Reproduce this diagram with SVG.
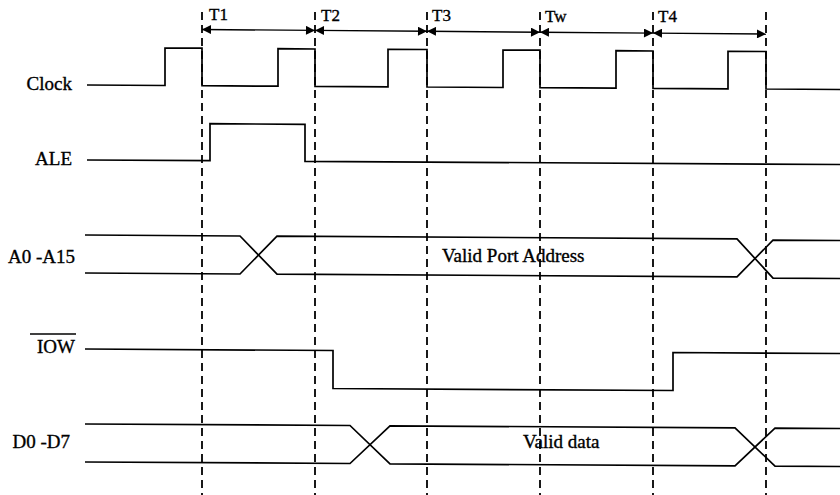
<svg xmlns="http://www.w3.org/2000/svg" width="840" height="495" viewBox="0 0 840 495">
  <style>
    .sig { fill: none; stroke: #000; stroke-width: 1.7; stroke-linejoin: miter; }
    .grid { fill: none; stroke: #000; stroke-width: 1.8; stroke-dasharray: 8 5; }
    .dim { fill: none; stroke: #000; stroke-width: 1.4; marker-start: url(#ah); marker-end: url(#ah); }
    text { font-family: 'Liberation Serif', 'DejaVu Serif', serif; fill: #000; stroke: #000; stroke-width: 0.35; }
    .lbl { font-size: 19px; }
    .tl { font-size: 17px; }
  </style>
  <defs>
    <marker id="ah" viewBox="0 0 10 10" refX="10" refY="5" markerWidth="10" markerHeight="9" markerUnits="userSpaceOnUse" orient="auto-start-reverse">
      <path d="M0,0 L10,5 L0,10 Z" fill="#000"/>
    </marker>
  </defs>
  <rect width="840" height="495" fill="#fff"/>

  <g id="connectors">
    <line class="grid" x1="202" y1="12" x2="202" y2="495"/>
    <line class="grid" x1="315" y1="12" x2="315" y2="495"/>
    <line class="grid" x1="427" y1="12" x2="427" y2="495"/>
    <line class="grid" x1="540" y1="12" x2="540" y2="495"/>
    <line class="grid" x1="653" y1="12" x2="653" y2="495"/>
    <line class="grid" x1="766" y1="12" x2="766" y2="495"/>
    <line class="dim" x1="202" y1="29.5" x2="315" y2="30.4"/>
    <line class="dim" x1="315" y1="30.4" x2="427" y2="31.3"/>
    <line class="dim" x1="427" y1="31.3" x2="540" y2="32.2"/>
    <line class="dim" x1="540" y1="32.2" x2="653" y2="33.1"/>
    <line class="dim" x1="653" y1="33.1" x2="766" y2="34"/>
  </g>

  <g id="periods">
    <text class="tl" x="209" y="20" font-family="Liberation Serif, serif">T1</text>
    <text class="tl" x="321" y="20.5" font-family="Liberation Serif, serif">T2</text>
    <text class="tl" x="432" y="21" font-family="Liberation Serif, serif">T3</text>
    <text class="tl" x="545" y="21.5" font-family="Liberation Serif, serif">Tw</text>
    <text class="tl" x="658" y="22" font-family="Liberation Serif, serif">T4</text>
  </g>

  <g id="clock">
    <text class="lbl" x="72" y="90" text-anchor="end" font-family="Liberation Serif, serif">Clock</text>
    <polyline class="sig" points="87,85 165,85.5 165,48 202,48.2 202,85.7 278,86.2 278,48.7 315,49 315,86.4 388,86.8 388,49.3 427,49.5 427,87 503,87.5 503,50 540,50.2 540,87.7 616,88.2 616,50.7 653,51 653,88.4 728,88.8 728,51.3 766,51.5 766,89 840,89.5"/>
  </g>

  <g id="ale">
    <text class="lbl" x="72" y="165" text-anchor="end" font-family="Liberation Serif, serif">ALE</text>
    <polyline class="sig" points="87,160 210,160.7 210,123.7 305,124.3 305,161.3 840,164.5"/>
  </g>

  <g id="address">
    <text class="lbl" x="75" y="263" text-anchor="end" font-family="Liberation Serif, serif">A0 -A15</text>
    <polyline class="sig" points="85,235 240,236 277,274.1 737,276.9 773,240.1 840,240.5"/>
    <polyline class="sig" points="85,273 240,274 277,236.1 737,238.9 773,278.1 840,278.5"/>
    <text class="lbl" x="442" y="262" font-family="Liberation Serif, serif">Valid Port Address</text>
  </g>

  <g id="iow">
    <text class="lbl" x="75" y="353" text-anchor="end" font-family="Liberation Serif, serif">IOW</text>
    <line x1="30" y1="334" x2="76" y2="334" stroke="#000" stroke-width="1.3"/>
    <polyline class="sig" points="85,349 333,350.5 333,388.5 673,390.5 673,352.5 840,353.5"/>
  </g>

  <g id="data">
    <text class="lbl" x="70" y="448" text-anchor="end" font-family="Liberation Serif, serif">D0 -D7</text>
    <polyline class="sig" points="85,424 350,425.5 390,463.8 735,465.9 775,428.1 840,428.5"/>
    <polyline class="sig" points="85,462 350,463.5 390,425.8 735,427.9 775,466.1 840,466.5"/>
    <text class="lbl" x="523" y="448" font-family="Liberation Serif, serif">Valid data</text>
  </g>
</svg>
